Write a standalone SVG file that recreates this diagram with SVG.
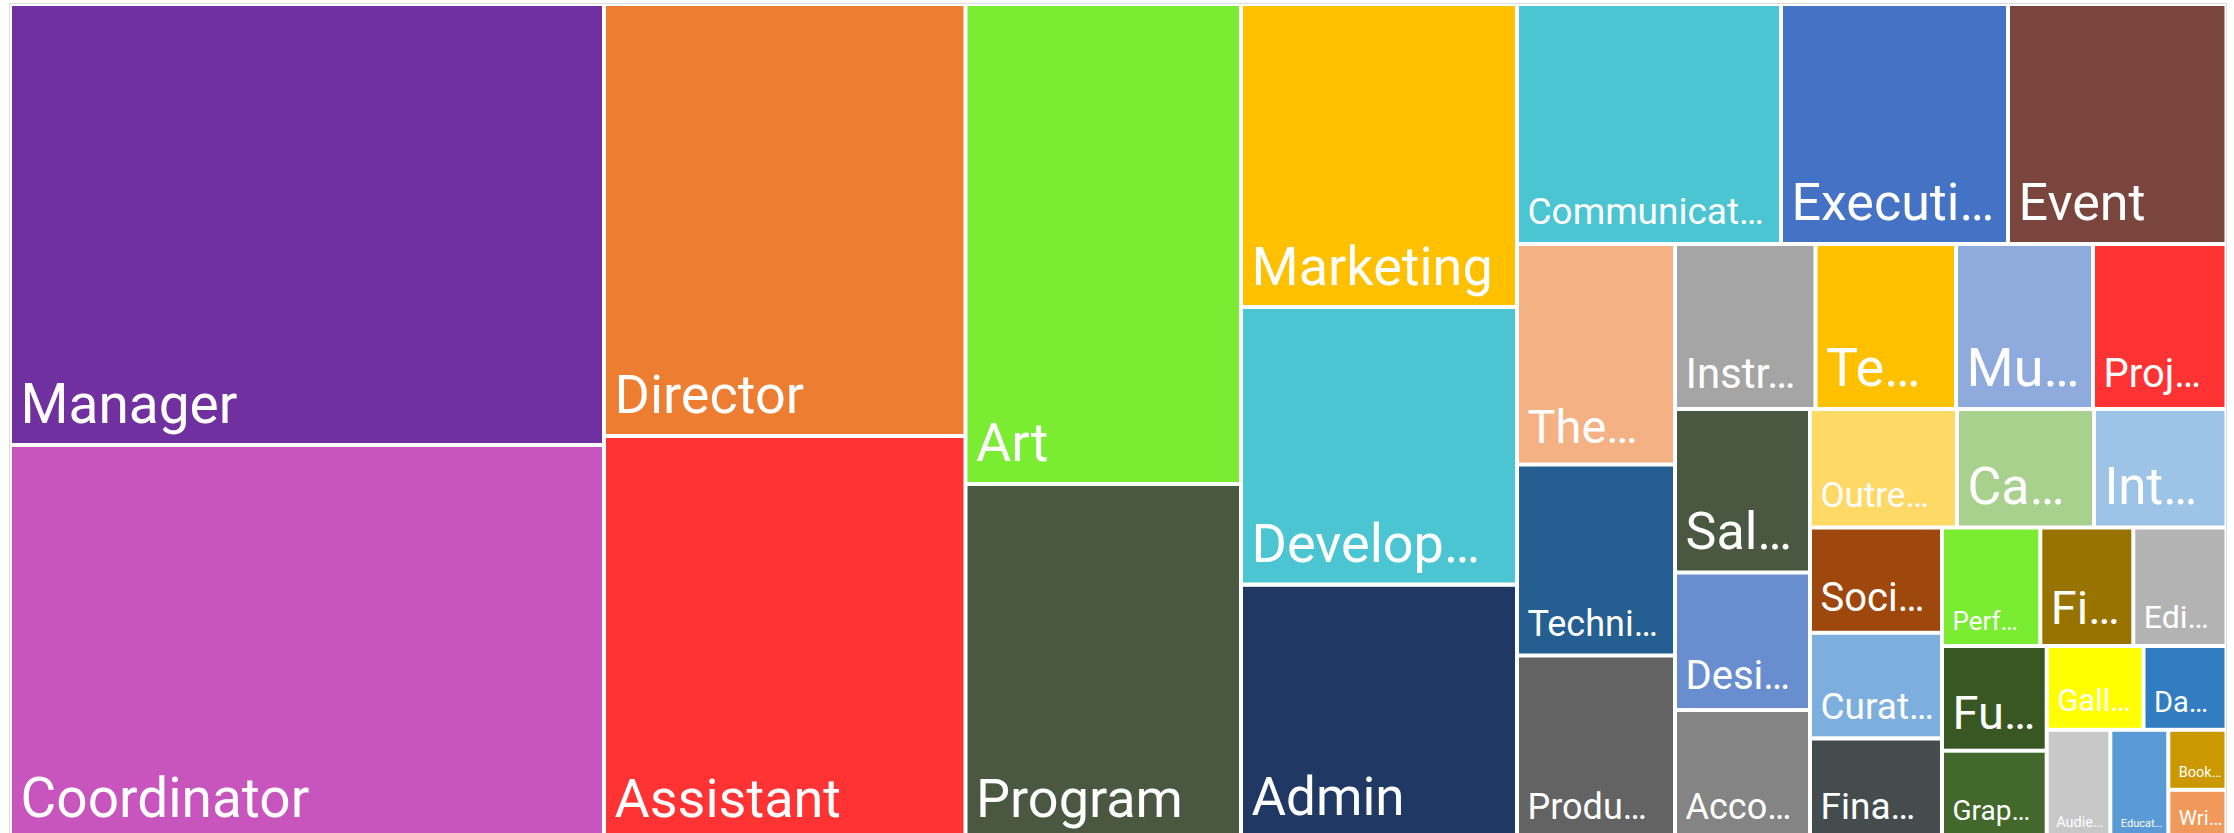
<svg xmlns="http://www.w3.org/2000/svg" width="2234" height="833" viewBox="0 0 2234 833">
<style>
text{font-family:Roboto,"Liberation Sans",sans-serif;fill:#fff;}
</style>
<rect x="0" y="0" width="2234" height="833" fill="#fff"/>
<rect x="9.5" y="3.5" width="2217" height="860" fill="none" stroke="#dcdcdc" stroke-width="1"/>
<g id="manager"><rect x="12" y="6" width="590" height="437" fill="#7030A0"/><text x="20.5" y="423" font-size="55">Manager</text></g>
<g id="coordinator"><rect x="12" y="447" width="590" height="400" fill="#C854BE"/><text x="20.5" y="816.7" font-size="55">Coordinator</text></g>
<g id="director"><rect x="606" y="6" width="357.5" height="428" fill="#ED7D31"/><text x="614.5" y="413.4" font-size="54">Director</text></g>
<g id="assistant"><rect x="606" y="438" width="357.5" height="400" fill="#FF3333"/><text x="614.5" y="816.7" font-size="54">Assistant</text></g>
<g id="art"><rect x="967.5" y="6" width="271.5" height="476" fill="#7AEC32"/><text x="976" y="461" font-size="54">Art</text></g>
<g id="program"><rect x="967.5" y="486" width="271.5" height="360" fill="#4A5842"/><text x="976" y="816.7" font-size="54">Program</text></g>
<g id="marketing"><rect x="1243" y="6" width="272" height="299" fill="#FFC000"/><text x="1251.5" y="285" font-size="54">Marketing</text></g>
<g id="develop"><rect x="1243" y="309" width="272" height="273.5" fill="#4BC5D1"/><text x="1251.5" y="562.3" font-size="54">Develop…</text></g>
<g id="admin"><rect x="1243" y="586.8" width="272" height="260" fill="#203864"/><text x="1251.5" y="815" font-size="53">Admin</text></g>
<g id="communicat"><rect x="1519" y="6" width="260" height="236" fill="#4BC5D1"/><text x="1527.5" y="224.3" font-size="37">Communicat…</text></g>
<g id="executive"><rect x="1783" y="6" width="223" height="236" fill="#4472C4"/><text x="1791.5" y="220.3" font-size="52">Executi…</text></g>
<g id="event"><rect x="2010" y="6" width="214.5" height="236" fill="#7A453D"/><text x="2018.5" y="220.3" font-size="52">Event</text></g>
<g id="the"><rect x="1519" y="246" width="154" height="216.5" fill="#F4B183"/><text x="1527.5" y="442.5" font-size="47">The…</text></g>
<g id="techni"><rect x="1519" y="466.5" width="154" height="187" fill="#255E91"/><text x="1527.5" y="636" font-size="36">Techni…</text></g>
<g id="produ"><rect x="1519" y="657.5" width="154" height="190" fill="#636363"/><text x="1527.5" y="819" font-size="36">Produ…</text></g>
<g id="instr"><rect x="1677" y="246" width="136.5" height="161" fill="#A5A5A5"/><text x="1685.5" y="387.7" font-size="42">Instr…</text></g>
<g id="te"><rect x="1817.5" y="246" width="136.5" height="161" fill="#FFC000"/><text x="1826" y="386" font-size="54">Te…</text></g>
<g id="mu"><rect x="1958" y="246" width="133" height="161" fill="#8FAADC"/><text x="1966.5" y="386" font-size="54">Mu…</text></g>
<g id="proj"><rect x="2095" y="246" width="129.5" height="161" fill="#FF3333"/><text x="2103.5" y="386.7" font-size="40">Proj…</text></g>
<g id="sal"><rect x="1677" y="411" width="131" height="159.5" fill="#4A5842"/><text x="1685.5" y="548.7" font-size="52">Sal…</text></g>
<g id="desi"><rect x="1677" y="574.5" width="131" height="133.5" fill="#698ED0"/><text x="1685.5" y="688.7" font-size="40">Desi…</text></g>
<g id="acco"><rect x="1677" y="712" width="131" height="130" fill="#848484"/><text x="1685.5" y="819" font-size="36">Acco…</text></g>
<g id="outre"><rect x="1812" y="411" width="143" height="114.5" fill="#FFD966"/><text x="1820.5" y="507.3" font-size="35">Outre…</text></g>
<g id="ca"><rect x="1959" y="411" width="133" height="114.5" fill="#A9D18E"/><text x="1967.5" y="504.3" font-size="52">Ca…</text></g>
<g id="int"><rect x="2096" y="411" width="128.5" height="114.5" fill="#9DC3E6"/><text x="2104.5" y="504.3" font-size="51">Int…</text></g>
<g id="soci"><rect x="1812" y="529.5" width="128" height="101.3" fill="#9E480E"/><text x="1820.5" y="611.3" font-size="40">Soci…</text></g>
<g id="curat"><rect x="1812" y="634.8" width="128" height="101.5" fill="#7CAFDD"/><text x="1820.5" y="719" font-size="37">Curat…</text></g>
<g id="fina"><rect x="1812" y="740.5" width="128" height="100" fill="#444C4E"/><text x="1820.5" y="819" font-size="37">Fina…</text></g>
<g id="perf"><rect x="1944" y="529.5" width="94.3" height="114.5" fill="#7AEC32"/><text x="1952.5" y="630" font-size="26">Perf…</text></g>
<g id="fi"><rect x="2042.3" y="529.5" width="89" height="114.5" fill="#997300"/><text x="2050.8" y="624" font-size="47">Fi…</text></g>
<g id="edi"><rect x="2135.3" y="529.5" width="89.2" height="114.5" fill="#B3B3B3"/><text x="2143.8" y="628.3" font-size="32">Edi…</text></g>
<g id="fu"><rect x="1944" y="648" width="100.7" height="100.7" fill="#385723"/><text x="1952.5" y="729.3" font-size="47">Fu…</text></g>
<g id="grap"><rect x="1944" y="752.7" width="100.7" height="90" fill="#43682B"/><text x="1952.5" y="820.3" font-size="28">Grap…</text></g>
<g id="gall"><rect x="2048.7" y="648" width="92.8" height="79.8" fill="#FFFF00"/><text x="2057.2" y="711.3" font-size="31">Gall…</text></g>
<g id="da"><rect x="2145.5" y="648" width="79" height="79.8" fill="#327CC1"/><text x="2154" y="711.7" font-size="29">Da…</text></g>
<g id="audie"><rect x="2048.7" y="731.8" width="59.6" height="110" fill="#C8C8C8"/><text x="2056.2" y="826.7" font-size="14.5">Audie…</text></g>
<g id="educat"><rect x="2112.3" y="731.8" width="54" height="110" fill="#5B9BD5"/><text x="2120.8" y="827.3" font-size="11">Educat…</text></g>
<g id="book"><rect x="2170.3" y="731.8" width="54.2" height="56" fill="#CB9800"/><text x="2178.8" y="777" font-size="14.5">Book…</text></g>
<g id="wri"><rect x="2170.3" y="791.8" width="54.2" height="50" fill="#F1995A"/><text x="2178.8" y="824.7" font-size="20.5">Wri…</text></g>
<g id="connectors"></g>
</svg>
